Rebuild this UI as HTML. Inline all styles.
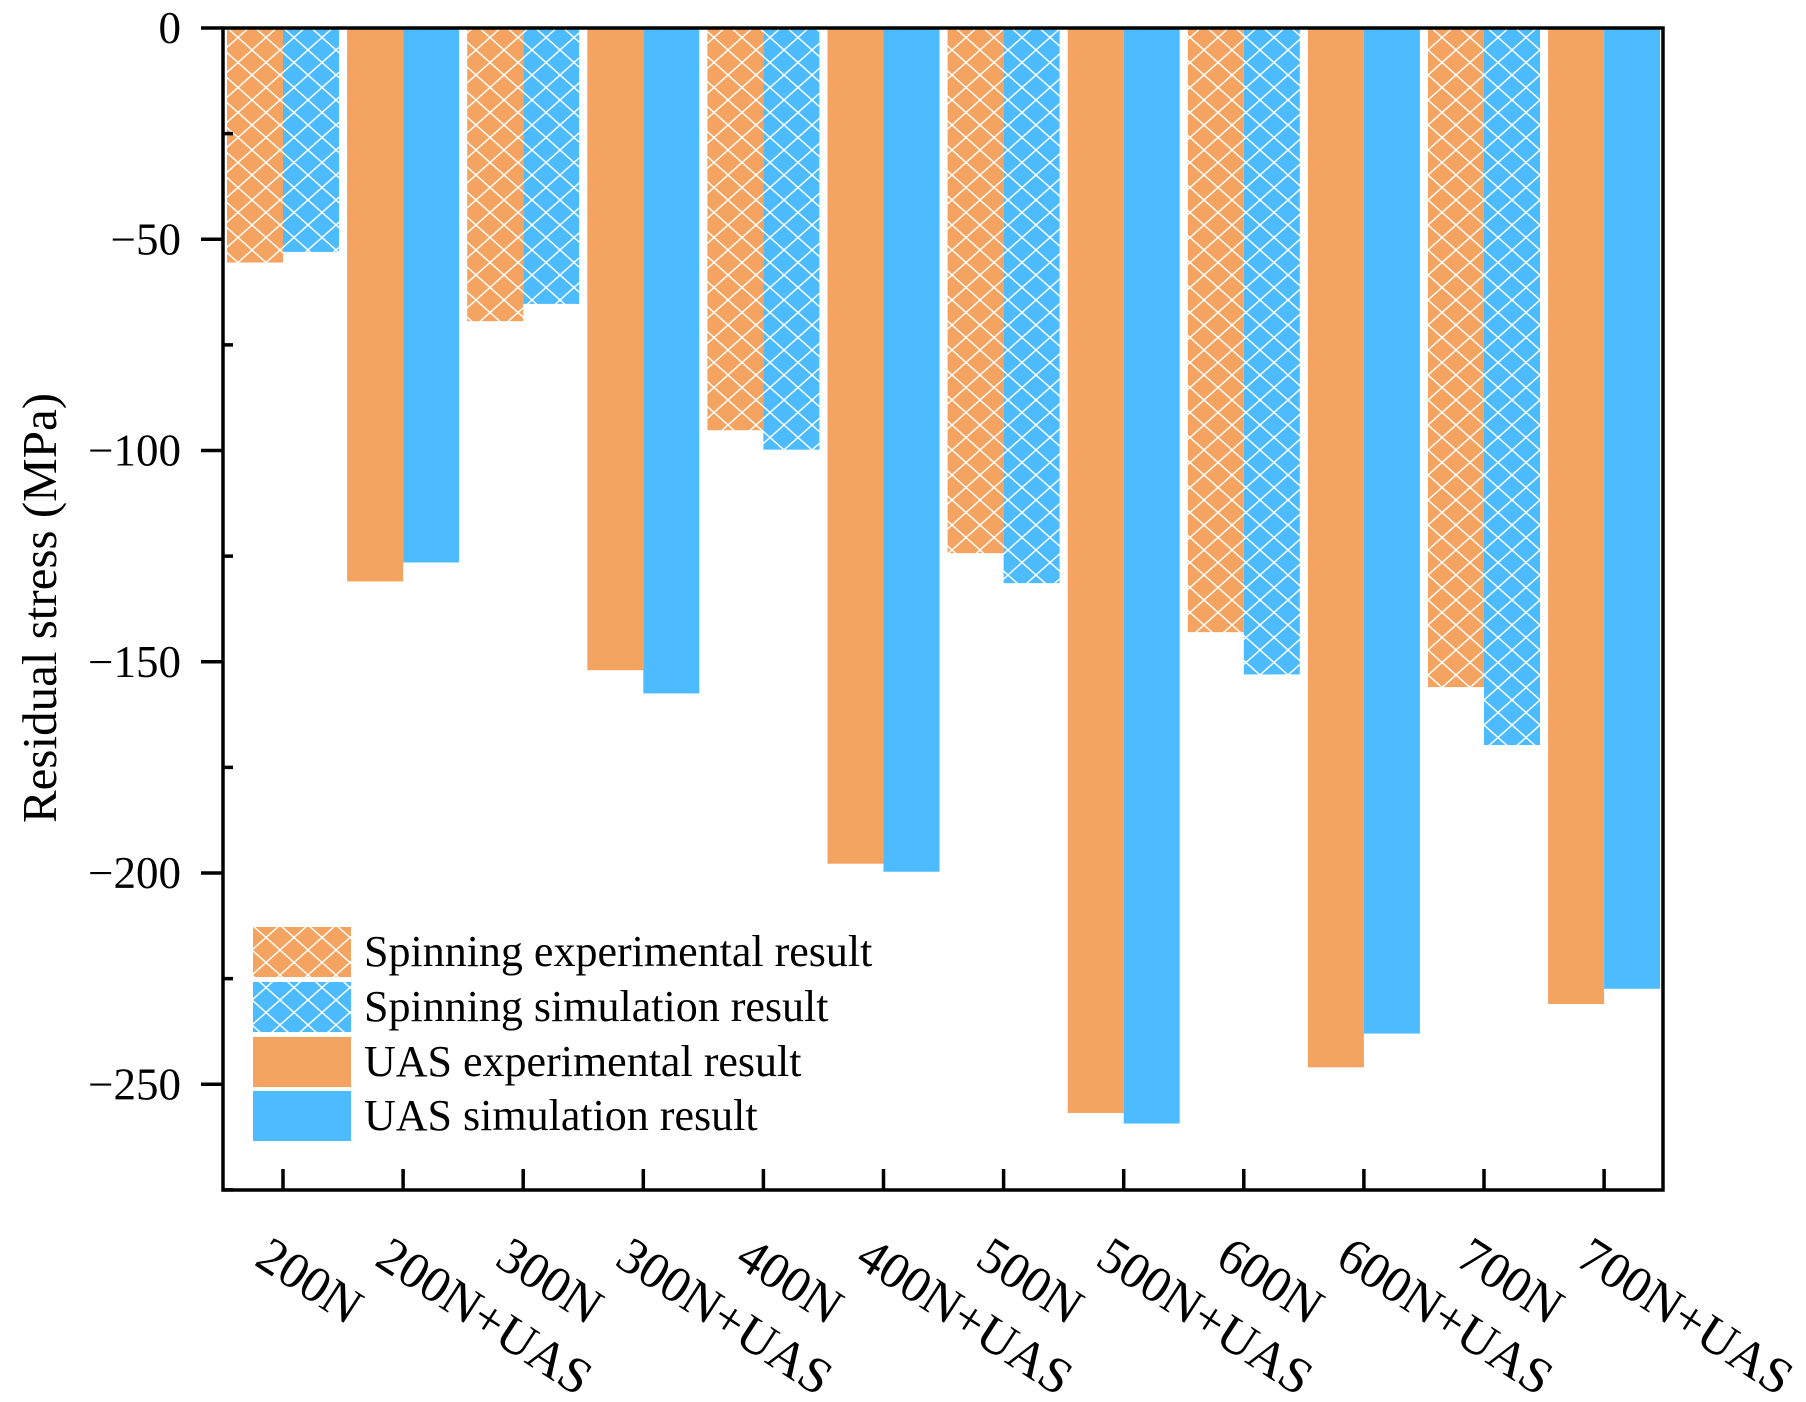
<!DOCTYPE html>
<html><head><meta charset="utf-8"><style>
html,body{margin:0;padding:0;background:#fff;}
svg{display:block;font-family:"Liberation Serif",serif;}
</style></head><body>
<svg id="chart" width="1806" height="1402" viewBox="0 0 1806 1402" xmlns="http://www.w3.org/2000/svg">
<defs>
<pattern id="hatchO" patternUnits="userSpaceOnUse" width="28" height="25">
<rect width="28" height="25" fill="#F4A460"/>
<path d="M0,0 L28,25 M28,0 L0,25" stroke="#fff" stroke-width="1.4" fill="none"/>
</pattern>
<pattern id="hatchB" patternUnits="userSpaceOnUse" width="28" height="25">
<rect width="28" height="25" fill="#4DBBFF"/>
<path d="M0,0 L28,25 M28,0 L0,25" stroke="#fff" stroke-width="1.4" fill="none"/>
</pattern>
</defs>
<g id="bars"></g>
<g id="axes"></g>
<g id="legend"></g>
</svg>
<script>
const categories = ["200N","200N+UAS","300N","300N+UAS","400N","400N+UAS","500N","500N+UAS","600N","600N+UAS","700N","700N+UAS"];
const experimentalValues = [-55.5,-131,-69.4,-152,-95.2,-197.8,-124.3,-256.8,-143,-246,-156,-231];
const simulationValues = [-53,-126.5,-65.3,-157.5,-99.8,-199.7,-131.4,-259.3,-153,-238,-169.7,-227.4];
const yTickValues = [0,-50,-100,-150,-200,-250];
const yMinorValues = [-25,-75,-125,-175,-225,-275];
const legendLabels = ["Spinning experimental result","Spinning simulation result","UAS experimental result","UAS simulation result"];

const NS="http://www.w3.org/2000/svg";
const L=223,R=1663,T=28,B=1190;
const pxPerUnit=4.225;
function y(v){return T - v*pxPerUnit;}
function x(i){return 283 + i*120.1;}
const barW=56;
function mk(tag,attrs,parent){const e=document.createElementNS(NS,tag);for(const k in attrs)e.setAttribute(k,attrs[k]);parent.appendChild(e);return e;}

const gBars=document.getElementById('bars');
categories.forEach((c,i)=>{
  const hatched = i%2===0;
  const e=mk('rect',{x:x(i)-barW,y:y(0),width:barW,height:y(experimentalValues[i])-y(0),fill:hatched?'url(#hatchO)':'#F4A460'},gBars);
  
  
  const s=mk('rect',{x:x(i),y:y(0),width:barW,height:y(simulationValues[i])-y(0),fill:hatched?'url(#hatchB)':'#4DBBFF'},gBars);
  
  
});

const gA=document.getElementById('axes');
const frame=mk('rect',{x:L,y:T,width:R-L,height:B-T,fill:'none',stroke:'#000','stroke-width':3.5},gA);


yTickValues.forEach(v=>{
  mk('line',{x1:L-22,x2:L,y1:y(v),y2:y(v),stroke:'#000','stroke-width':3.5},gA);
  const t=mk('text',{x:L-42,y:y(v)+15,'text-anchor':'end','font-size':45,fill:'#000'},gA);
  t.textContent=(v<0?'\u2212':'')+Math.abs(v);
  
  
});
yMinorValues.forEach(v=>{
  if(y(v)<B) mk('line',{x1:L,x2:L+10,y1:y(v),y2:y(v),stroke:'#000','stroke-width':3.5},gA);
});
categories.forEach((c,i)=>{
  mk('line',{x1:x(i),x2:x(i),y1:B,y2:B-21,stroke:'#000','stroke-width':3.5},gA);
  const ox=x(i)-30, oy=1264;
  const t=mk('text',{x:ox,y:oy,'font-size':51,fill:'#000',transform:'rotate(33 '+ox+' '+oy+')'},gA);
  t.textContent=c;
  
  
});
const yt=mk('text',{x:0,y:0,'font-size':49,'text-anchor':'middle',fill:'#000',transform:'translate(56 608) rotate(-90)'},gA);
yt.textContent='Residual stress (MPa)';



const gL=document.getElementById('legend');
const fills=['url(#hatchO)','url(#hatchB)','#F4A460','#4DBBFF'];
const boxTops=[927,982,1037,1091];
legendLabels.forEach((lab,i)=>{
  const r=mk('rect',{x:253,y:boxTops[i],width:98,height:50,fill:fills[i]},gL);
  
  
  const t=mk('text',{x:364,y:boxTops[i]+39,'font-size':44,fill:'#000'},gL);
  t.textContent=lab;
  
  
});
</script>
</body></html>
